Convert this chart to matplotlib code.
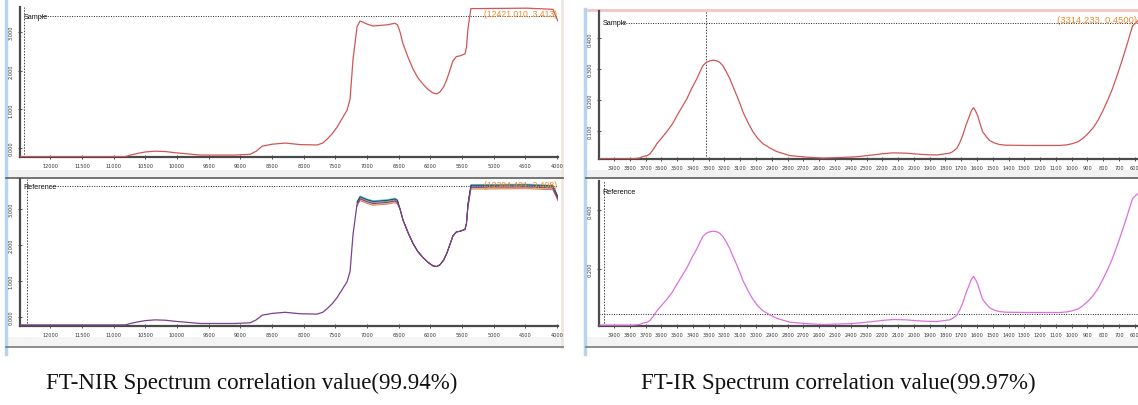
import numpy as np
import matplotlib.pyplot as plt

# ---- data ----
# FT-NIR (wavenumber cm-1, absorbance)
nir_wn = [12473, 10817, 10738, 10600, 10502, 10344, 10180, 10028, 9634, 9082, 8845,
          8750, 8656, 8498, 8293, 8057, 7789, 7700, 7631, 7550, 7473, 7380, 7315,
          7268, 7221, 7158, 7110, 7000, 6905, 6685, 6560, 6520, 6480, 6432, 6350,
          6274, 6200, 6117, 6040, 5959, 5900, 5849, 5790, 5738, 5690, 5644, 5590,
          5533, 5454, 5430, 5407, 5360, 5218, 4476, 4066, 3987]
nir_sample = [-0.22, -0.22, -0.18, -0.13, -0.10, -0.08, -0.09, -0.12, -0.18, -0.18, -0.16,
              -0.08, 0.05, 0.10, 0.13, 0.09, 0.08, 0.13, 0.23, 0.37, 0.54, 0.80, 0.98,
              1.27, 2.30, 3.13, 3.28, 3.20, 3.15, 3.18, 3.22, 3.18, 3.00, 2.69, 2.33,
              2.04, 1.82, 1.65, 1.52, 1.42, 1.40, 1.45, 1.58, 1.78, 2.02, 2.25, 2.36,
              2.38, 2.43, 2.60, 3.08, 3.60, 3.60, 3.61, 3.58, 3.28]
nir_reference = nir_sample
# extra reference replicates shown on the plateaus (colour, offset)
nir_rep_colors = ['#2030c0', '#20c8d8', '#e8c020', '#30a040', '#202020', '#d04040']
nir_rep_offsets = [0.05, 0.08, -0.03, 0.03, 0.06, -0.05]

# FT-IR (wavenumber cm-1, absorbance)
ir_wn = [3989, 3780, 3740, 3716, 3690, 3672, 3650, 3628, 3600, 3565, 3530, 3501, 3470,
         3438, 3410, 3375, 3355, 3337, 3315, 3293, 3270, 3248, 3230, 3210, 3190,
         3166, 3145, 3122, 3100, 3084, 3050, 3020, 2990, 2957, 2910, 2868, 2786,
         2678, 2577, 2406, 2350, 2280, 2200, 2134, 2050, 1982, 1920, 1856, 1773,
         1760, 1729, 1710, 1691, 1670, 1647, 1635, 1622, 1610, 1596, 1580, 1565,
         1540, 1520, 1490, 1457, 1420, 1286, 1077, 1030, 995, 960, 932, 900, 868,
         835, 805, 773, 742, 710, 678, 645, 615, 584]
ir_sample = [0.009, 0.009, 0.011, 0.016, 0.019, 0.025, 0.040, 0.058, 0.075, 0.097, 0.122, 0.149, 0.176,
             0.204, 0.235, 0.269, 0.292, 0.311, 0.322, 0.327, 0.329, 0.327, 0.322, 0.311, 0.293,
             0.269, 0.242, 0.214, 0.186, 0.162, 0.125, 0.097, 0.075, 0.058, 0.043, 0.032, 0.019,
             0.014, 0.011, 0.014, 0.016, 0.020, 0.025, 0.028, 0.027, 0.024, 0.022, 0.021, 0.027,
             0.030, 0.042, 0.060, 0.084, 0.118, 0.149, 0.166, 0.175, 0.165, 0.149, 0.122, 0.097,
             0.080, 0.068, 0.060, 0.055, 0.053, 0.052, 0.052, 0.054, 0.058, 0.064, 0.074, 0.089, 0.107,
             0.132, 0.162, 0.198, 0.236, 0.283, 0.333, 0.388, 0.440, 0.456]
ir_reference = ir_sample

nir_xticks = list(range(12000, 3999, -500))
ir_xticks = list(range(3900, 599, -100))

captions = ['FT-NIR Spectrum correlation value(99.94%)',
            'FT-IR Spectrum correlation value(99.97%)']

W, H = 1138, 406
fig = plt.figure(figsize=(W / 100, H / 100), dpi=100)


def px_axes(x0, y0, x1, y1):
    return fig.add_axes([x0 / W, 1 - y1 / H, (x1 - x0) / W, (y1 - y0) / H])


# background / window frames in pixel coords
bg = fig.add_axes([0, 0, 1, 1])
bg.set_xlim(0, W)
bg.set_ylim(H, 0)
bg.axis('off')
bg.plot([6, 6], [0, 355], color='#b8d4ee', lw=2.5)
bg.plot([585, 585], [10, 355], color='#b8d4ee', lw=2.5)
bg.plot([588, 1138], [11, 11], color='#f2c4c8', lw=2)
bg.plot([562, 562], [0, 348], color='#ece8dc', lw=2)
for x0, x1 in [(6, 563), (586, 1138)]:
    bg.fill_between([x0, x1], 171, 178, color='#f1f1f1', lw=0)
    bg.plot([x0, x1], [179, 179], color='#6a6a6a', lw=1.3)
    bg.fill_between([x0, x1], 338, 347, color='#f4f4f4', lw=0)
    bg.plot([x0, x1], [348, 348], color='#7a7a7a', lw=1.2)


def panel(rect, wn, vals, xlim, ylim, color, xticks, yticks, name, hline, vline, name_end):
    ax = px_axes(*rect)
    ax.plot(wn, vals, color=color, lw=0.9, zorder=3)
    ax.set_xlim(*xlim)
    ax.set_ylim(*ylim)
    for s in ['top', 'right']:
        ax.spines[s].set_visible(False)
    for s in ['left', 'bottom']:
        ax.spines[s].set_color('#4a4a4a')
        ax.spines[s].set_linewidth(1.6)
    ax.set_xticks(xticks)
    ax.set_xticklabels([str(t) for t in xticks])
    ax.set_yticks(yticks)
    ax.set_yticklabels(['%.3f' % t for t in yticks], rotation=90, va='center')
    ax.tick_params(labelsize=3.6, colors='#333333', length=3, width=0.6,
                   direction='inout', pad=3)
    ax.patch.set_alpha(0)
    ax.axhline(hline, xmin=name_end, color='#222222', lw=0.7, ls=(0, (1, 1.5)))
    ax.axvline(vline, color='#444444', lw=0.7, ls=(0, (1.5, 1.5)))
    return ax


def name_label(ax, name, yfrac):
    ax.text(0.007, yfrac, name, transform=ax.transAxes, fontsize=5.2, va='center',
            ha='left', color='#111111', family='Liberation Sans')


# FT-NIR sample
a1 = panel((20, 8, 558, 158), nir_wn, nir_sample, (12480, 3985), (-0.23, 3.64), '#d25555',
           nir_xticks, [0, 1, 2, 3], 'Sample', 3.413, 12410, 0.037)
name_label(a1, 'Sample', 0.94)
a1.text(0.998, 0.955, '(12421.010, 3.413)', transform=a1.transAxes, ha='right', va='center',
        fontsize=6.2, color='#f08a2a', family='Liberation Sans', zorder=5)

# FT-NIR reference
a2 = panel((20, 180, 558, 327), nir_wn, nir_reference, (12480, 3985), (-0.25, 3.83), '#7d3f8f',
           nir_xticks, [0, 1, 2, 3], 'Reference', 3.636, 12363, 0.055)
name_label(a2, 'Reference', 0.952)
rep_wn = [w for w in nir_wn if w < 7200]
rep_v = [v for w, v in zip(nir_wn, nir_reference) if w < 7200]
for c, off in zip(nir_rep_colors, nir_rep_offsets):
    vv = [v + off if v > 3.0 else v for v in rep_v]
    a2.plot(rep_wn, vv, color=c, lw=0.6, alpha=0.8, zorder=2)
a2.text(0.998, 0.96, '(12384.421, 3.408)', transform=a2.transAxes, ha='right', va='center',
        fontsize=6.2, color='#f08a2a', family='Liberation Sans', zorder=5)

# FT-IR sample
a3 = panel((599, 12, 1138, 160), ir_wn, ir_sample, (3995, 580), (0.008, 0.489), '#d25555',
           ir_xticks, [0.1, 0.2, 0.3, 0.4], 'Sample', 0.45, 3314, 0.04)
name_label(a3, 'Sample', 0.92)
a3.text(0.998, 0.945, '(3314.233, 0.4500)', transform=a3.transAxes, ha='right', va='center',
        fontsize=6.8, color='#f08a2a', family='Liberation Sans', zorder=5)

# FT-IR reference
a4 = panel((599, 182, 1138, 327), ir_wn, ir_reference, (3995, 580), (0.006, 0.50), '#dd70dd',
           ir_xticks, [0.2, 0.4], 'Reference', 0.046, 3963, 0.0)
name_label(a4, 'Reference', 0.93)

# captions
fig.text(252 / W, 1 - 383 / H, captions[0], ha='center', va='center',
         family='Liberation Serif', fontsize=16.5, color='#111111')
fig.text(838 / W, 1 - 383 / H, captions[1], ha='center', va='center',
         family='Liberation Serif', fontsize=16.5, color='#111111')

fig.savefig('out.png', dpi=100)
